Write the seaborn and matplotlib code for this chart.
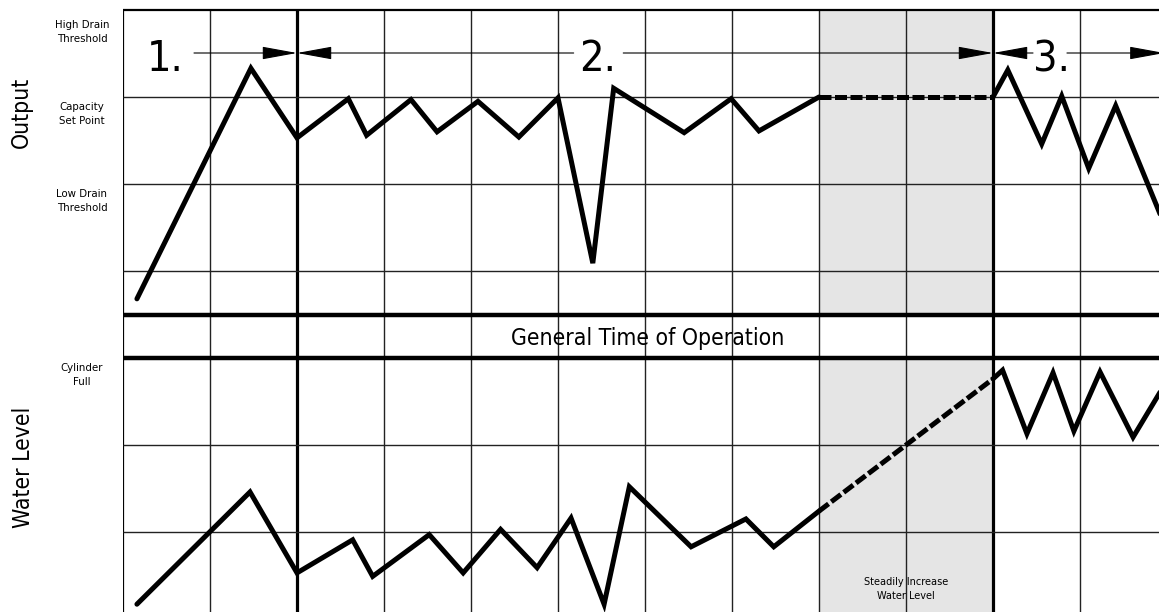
import seaborn as sns
import matplotlib.pyplot as plt

# grid units: one cell = 87 px, x=0 at the left border, y=0 one row below the bottom edge
out_x = [0.16, 1.47, 2.0, 2.59, 2.80, 3.31, 3.61, 4.08, 4.55, 5.0, 5.40, 5.64, 6.45, 6.99, 7.31, 8.0]
out_y = [3.68, 6.33, 5.53, 5.98, 5.56, 5.97, 5.60, 5.95, 5.54, 5.99, 4.09, 6.10, 5.59, 5.98, 5.61, 6.0]
out_dash_x = [8.0, 10.0]
out_dash_y = [6.0, 6.0]
out_end_x = [10.0, 10.17, 10.56, 10.79, 11.10, 11.41, 12.0]
out_end_y = [6.0, 6.31, 5.46, 6.01, 5.18, 5.90, 4.46]

wl_x = [0.16, 1.46, 2.0, 2.64, 2.87, 3.52, 3.91, 4.34, 4.76, 5.15, 5.53, 5.82, 6.53, 7.16, 7.48, 8.0]
wl_y = [0.17, 1.46, 0.53, 0.91, 0.49, 0.97, 0.53, 1.03, 0.59, 1.16, 0.17, 1.52, 0.83, 1.15, 0.83, 1.24]
wl_dash_x = [8.0, 10.0]
wl_dash_y = [1.24, 2.76]
wl_end_x = [10.0, 10.11, 10.39, 10.69, 10.93, 11.23, 11.61, 12.0]
wl_end_y = [2.76, 2.86, 2.13, 2.83, 2.16, 2.84, 2.09, 2.74]

out_labels = ["High Drain\nThreshold", "Capacity\nSet Point", "Low Drain\nThreshold"]
wl_labels = ["Cylinder\nFull"]
phase_labels = ["1.", "2.", "3."]

sns.set_style("white")
plt.rcParams['font.family'] = ['DejaVu Sans']
plt.rcParams['font.stretch'] = 'condensed'
plt.rcParams['text.color'] = 'black'

W, H = 1159, 612
fig = plt.figure(figsize=(W / 100, H / 100), dpi=100)
ax = fig.add_axes([123 / W, 0, 1 - 123 / W, 1])
xmax = (W - 123) / 87
ybot, ytop = (619 - 612) / 87, 619 / 87
ax.set_xlim(0, xmax)
ax.set_ylim(ybot, ytop)
ax.set_axis_off()

# shaded window
shade = '#e5e5e5'
ax.fill_between([8, 10], 3.5, 7, color=shade, lw=0, zorder=0)
ax.fill_between([8, 10], ybot, 3, color=shade, lw=0, zorder=0)

# grid
gc = '#222222'
for gx in range(1, 12):
    ax.vlines(gx, ybot, 7, color='black' if gx in (2, 10) else gc,
              lw=2.3 if gx in (2, 10) else 1.0, zorder=1)
ax.vlines(0, ybot, 7, color='black', lw=1.6, zorder=1)
for gy in (1, 2, 4, 5, 6):
    ax.hlines(gy, 0, xmax, color=gc, lw=1.0, zorder=1)
ax.hlines(7, 0, xmax, color='black', lw=1.6, zorder=1)
for gy in (3, 3.5):
    ax.hlines(gy, -0.03, xmax, color='black', lw=3.2, zorder=1)

# data lines
lw = 3.6
dash = (0, (2.4, 0.7))
sns.lineplot(x=out_x, y=out_y, color='black', lw=lw, sort=False, ax=ax, zorder=3)
sns.lineplot(x=out_dash_x, y=out_dash_y, color='black', lw=lw, linestyle=dash, sort=False, ax=ax, zorder=3)
sns.lineplot(x=out_end_x, y=out_end_y, color='black', lw=lw, sort=False, ax=ax, zorder=3)
sns.lineplot(x=wl_x, y=wl_y, color='black', lw=lw, sort=False, ax=ax, zorder=3)
sns.lineplot(x=wl_dash_x, y=wl_dash_y, color='black', lw=lw, linestyle=dash, sort=False, ax=ax, zorder=3)
sns.lineplot(x=wl_end_x, y=wl_end_y, color='black', lw=lw, sort=False, ax=ax, zorder=3)
for ln in ax.lines:
    ln.set_solid_joinstyle('miter')
    ln.set_solid_capstyle('round')
    ln.set_dash_capstyle('butt')

# phase arrows
ay = (619 - 53) / 87
aprops = dict(arrowstyle='-|>,head_length=2.2,head_width=0.4', mutation_scale=10,
              color='black', lw=0.8, shrinkA=0, shrinkB=0)
for start, tip in [(0.816, 2.0), (5.18, 2.0), (5.75, 10.0), (10.46, 10.0), (10.85, 11.97)]:
    ax.annotate('', xy=(tip, ay), xytext=(start, ay), arrowprops=aprops, zorder=4,
                annotation_clip=False)
for lab, px in zip(phase_labels, [165, 598, 1051]):
    ax.text((px - 123) / 87, (619 - 71) / 87, lab, fontsize=31, ha='center',
            va='baseline', zorder=5)

ax.text((648 - 123) / 87, (619 - 345) / 87, "General Time of Operation", fontsize=16.5,
        ha='center', va='baseline', zorder=5)
ax.text(9.0, (619 - 589) / 87, "Steadily Increase\nWater Level", fontsize=7.8,
        ha='center', va='center', linespacing=1.5, zorder=5)

# left side labels
fig.text(21 / W, 1 - 112 / H, "Output", fontsize=16.5, rotation=90, ha='center', va='center')
fig.text(24 / W, 1 - 467 / H, "Water Level", fontsize=16.5, rotation=90, ha='center', va='center')
for lab, py in zip(out_labels + wl_labels, [32, 114, 201, 375]):
    fig.text(82 / W, 1 - py / H, lab, fontsize=8.2, ha='center', va='center', linespacing=1.45)

fig.savefig('out.png', dpi=100)
